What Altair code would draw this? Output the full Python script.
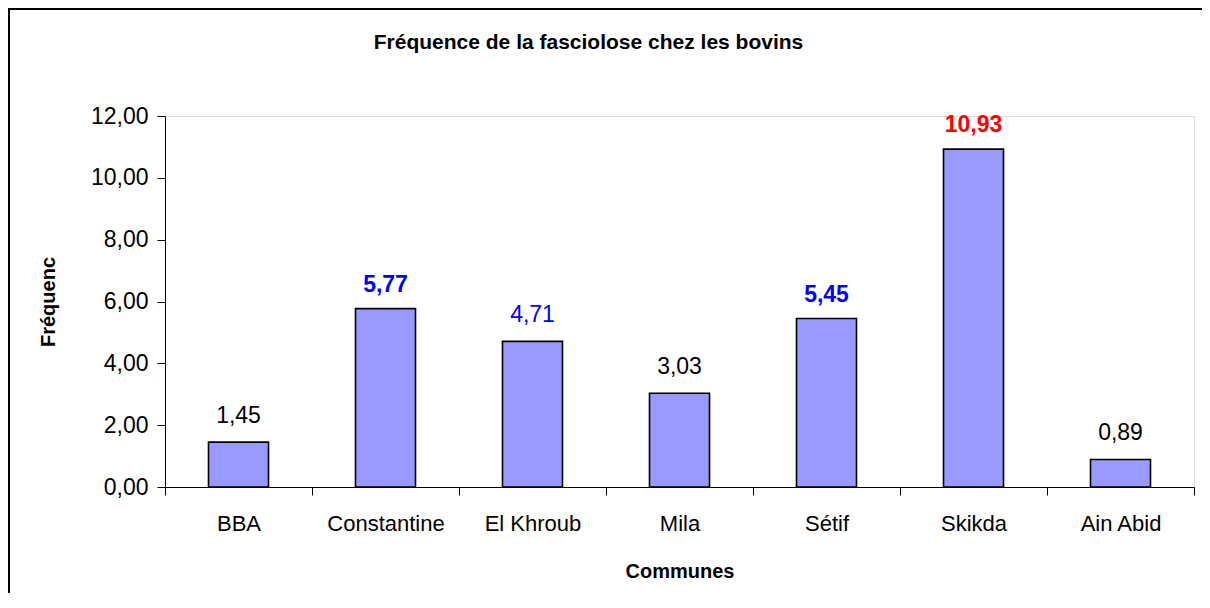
import altair as alt
import pandas as pd

communes = ["BBA", "Constantine", "El  Khroub", "Mila", "Sétif", "Skikda", "Ain  Abid"]
frequences = [1.45, 5.77, 4.71, 3.03, 5.45, 10.93, 0.89]
label_colors = ["#000000", "#0000FF", "#0000FF", "#000000", "#0000FF", "#FF0000", "#000000"]
label_bold = [False, True, False, False, True, True, False]

df = pd.DataFrame({
    "commune": communes,
    "freq": frequences,
    "lcolor": label_colors,
    "bold": label_bold,
})

FONT = "Liberation Sans"
W, H = 1029, 371

x_enc = alt.X(
    "commune:N", sort=communes,
    scale=alt.Scale(paddingInner=0, paddingOuter=0),
    axis=alt.Axis(
        title="Communes", titleFont=FONT, titleFontSize=20, titleFontWeight="bold",
        titleColor="#000", titleY=84, titleBaseline="middle",
        labelFont=FONT, labelFontSize=22, labelColor="#000", labelAngle=0,
        labelPadding=18, tickBand="extent", tickSize=8, tickColor="#000",
        domainColor="#000", domainWidth=1, grid=False,
    ),
)
y_enc = alt.Y(
    "freq:Q",
    scale=alt.Scale(domain=[0, 12], nice=False),
    axis=alt.Axis(
        title="Fréquenc", titleFont=FONT, titleFontSize=20, titleFontWeight="bold",
        titleColor="#000", titleX=-117, titleY=H / 2, titleBaseline="middle",
        titleAlign="center", titleAngle=-90,
        values=[0, 2, 4, 6, 8, 10, 12],
        labelExpr="replace(format(datum.value, '.2f'), '.', ',')",
        labelFont=FONT, labelFontSize=23, labelColor="#000", labelPadding=9,
        tickSize=8, tickColor="#000", domainColor="#000", domainWidth=1, grid=False,
    ),
)

base = alt.Chart(df).transform_calculate(
    lab="replace(format(datum.freq, '.2f'), '.', ',')"
)

bars = base.mark_bar(size=60, color="#9999FF", stroke="#000", strokeWidth=1.6).encode(
    x=x_enc, y=y_enc
)

labels_norm = base.transform_filter("!datum.bold").mark_text(
    font=FONT, fontSize=23, baseline="alphabetic", dy=-19
).encode(
    x=alt.X("commune:N", sort=communes),
    y="freq:Q",
    text="lab:N",
    color=alt.Color("lcolor:N", scale=None),
)
labels_bold = base.transform_filter("datum.bold").mark_text(
    font=FONT, fontSize=23, fontWeight="bold", baseline="alphabetic", dy=-17
).encode(
    x=alt.X("commune:N", sort=communes),
    y="freq:Q",
    text="lab:N",
    color=alt.Color("lcolor:N", scale=None),
)

# outer chart frame (top and left edges, as in the cropped reference)
frame_top = alt.Chart(df).mark_rule(color="#000", strokeWidth=2, clip=False).encode(
    x=alt.value(-157), x2=alt.value(W + 8), y=alt.value(-107)
)
frame_left = alt.Chart(df).mark_rule(color="#000", strokeWidth=2, clip=False).encode(
    x=alt.value(-156), y=alt.value(-108), y2=alt.value(H + 106)
)

chart = alt.layer(bars, labels_norm, labels_bold, frame_top, frame_left).properties(
    width=W,
    height=H,
    title=alt.TitleParams(
        "Fréquence de la fasciolose chez les bovins",
        font=FONT, fontSize=21, fontWeight="bold", color="#000",
        anchor="middle", frame="group", dx=-91, offset=-46,
    ),
    autosize=alt.AutoSizeParams(type="none"),
    padding={"left": 157, "top": 108, "right": 8, "bottom": 106},
).configure_view(stroke=None).configure(background="white")

chart.save("out.html", embed_options={"renderer": "svg", "actions": False})
